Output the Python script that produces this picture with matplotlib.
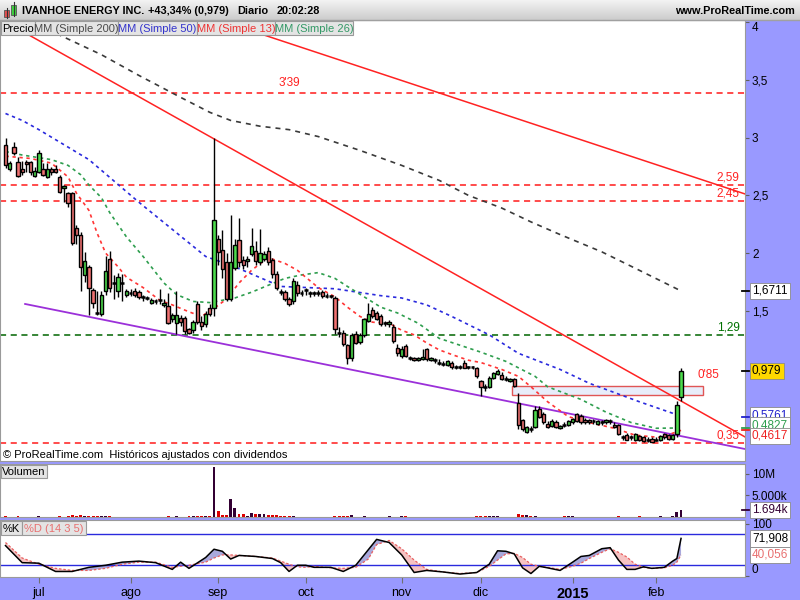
import numpy as np
import pandas as pd
import matplotlib
matplotlib.use("Agg")
import matplotlib.pyplot as plt
import matplotlib.transforms as mtransforms
from matplotlib.patches import Rectangle

plt.rcParams["font.family"] = ["Liberation Sans", "DejaVu Sans"]

# ---------------------------------------------------------------- data
holidays = ["2014-07-04", "2014-09-01", "2014-11-27", "2014-12-25",
            "2015-01-01", "2015-01-19"]
dates = pd.bdate_range("2014-06-19", "2015-02-10", freq="C", holidays=holidays)

opens = [
    2.94, 2.73, 2.92, 2.79, 2.73, 2.79, 2.79, 2.67, 2.70, 2.73,
    2.66, 2.73, 2.73, 2.66, 2.56, 2.52, 2.52, 2.22, 2.16, 1.81,
    1.88, 1.68, 1.48, 1.47, 1.67, 1.95, 1.74, 1.67, 1.74, 1.64,
    1.65, 1.67, 1.66, 1.62, 1.61, 1.57, 1.58, 1.59, 1.55, 1.54,
    1.43, 1.39, 1.44, 1.44, 1.34, 1.33, 1.56, 1.40, 1.38, 1.52,
    1.52, 2.12, 2.03, 1.92, 1.60, 1.87, 2.11, 1.94, 1.93, 1.99,
    2.02, 1.92, 1.95, 2.02, 1.94, 1.82, 1.66, 1.66, 1.60, 1.58,
    1.72, 1.65, 1.68, 1.65, 1.65, 1.65, 1.66, 1.63, 1.63, 1.61,
    1.31, 1.31, 1.20, 1.09, 1.30, 1.23, 1.29, 1.41, 1.51, 1.48,
    1.45, 1.39, 1.38, 1.36, 1.18, 1.11, 1.19, 1.09, 1.09, 1.07,
    1.08, 1.17, 1.07, 1.07, 1.05, 1.04, 1.03, 1.05, 1.01, 1.01,
    1.05, 1.01, 1.01, 1.00, 0.89, 0.84, 0.84, 0.92, 0.95, 0.94,
    0.91, 0.89, 0.91, 0.70, 0.55, 0.45, 0.47, 0.49, 0.65, 0.60,
    0.52, 0.50, 0.53, 0.48, 0.51, 0.51, 0.53, 0.60, 0.59, 0.55,
    0.55, 0.54, 0.52, 0.53, 0.53, 0.54, 0.51, 0.51, 0.40, 0.42,
    0.40, 0.38, 0.41, 0.40, 0.38, 0.39, 0.38, 0.38, 0.43, 0.42,
    0.39, 0.43, 0.755,
]
highs = [
    3.00, 2.80, 2.96, 2.83, 2.80, 2.81, 2.80, 2.75, 2.89, 2.78,
    2.78, 2.75, 2.76, 2.68, 2.59, 2.53, 2.53, 2.24, 2.18, 2.01,
    1.90, 1.70, 1.67, 1.67, 1.97, 2.02, 1.81, 1.83, 1.82, 1.69,
    1.69, 1.70, 1.68, 1.64, 1.63, 1.61, 1.60, 1.69, 1.60, 1.65,
    1.48, 1.67, 1.46, 1.45, 1.35, 1.42, 1.58, 1.45, 1.50, 1.56,
    3.00, 2.16, 2.20, 2.00, 2.33, 2.12, 2.30, 1.97, 1.97, 2.22,
    2.10, 2.21, 2.02, 2.05, 1.96, 1.84, 1.69, 1.68, 1.62, 1.78,
    1.76, 1.68, 1.70, 1.67, 1.67, 1.68, 1.68, 1.65, 1.64, 1.63,
    1.36, 1.33, 1.21, 1.31, 1.32, 1.31, 1.44, 1.57, 1.53, 1.50,
    1.47, 1.41, 1.42, 1.38, 1.21, 1.19, 1.21, 1.11, 1.10, 1.10,
    1.17, 1.18, 1.10, 1.09, 1.08, 1.06, 1.07, 1.06, 1.03, 1.03,
    1.07, 1.02, 1.02, 1.01, 0.90, 0.86, 0.93, 0.97, 0.99, 0.97,
    0.93, 0.92, 0.92, 0.79, 0.56, 0.50, 0.50, 0.67, 0.67, 0.62,
    0.54, 0.56, 0.55, 0.51, 0.53, 0.55, 0.57, 0.61, 0.60, 0.57,
    0.56, 0.56, 0.55, 0.55, 0.56, 0.56, 0.53, 0.52, 0.42, 0.44,
    0.42, 0.44, 0.42, 0.41, 0.40, 0.40, 0.40, 0.42, 0.44, 0.43,
    0.43, 0.72, 1.00,
]
lows = [
    2.74, 2.71, 2.85, 2.66, 2.68, 2.70, 2.68, 2.66, 2.69, 2.67,
    2.65, 2.68, 2.69, 2.52, 2.44, 2.40, 2.07, 2.08, 1.67, 1.75,
    1.46, 1.52, 1.46, 1.45, 1.64, 1.66, 1.60, 1.62, 1.58, 1.62,
    1.63, 1.62, 1.60, 1.58, 1.59, 1.56, 1.56, 1.56, 1.53, 1.38,
    1.40, 1.30, 1.37, 1.30, 1.30, 1.31, 1.38, 1.33, 1.36, 1.45,
    1.45, 1.90, 1.78, 1.58, 1.58, 1.85, 1.88, 1.86, 1.88, 1.97,
    1.90, 1.90, 1.93, 1.90, 1.78, 1.68, 1.64, 1.58, 1.54, 1.56,
    1.63, 1.63, 1.64, 1.62, 1.63, 1.63, 1.61, 1.61, 1.61, 1.30,
    1.27, 1.19, 1.04, 1.06, 1.21, 1.21, 1.27, 1.40, 1.44, 1.42,
    1.37, 1.37, 1.36, 1.22, 1.11, 1.09, 1.10, 1.07, 1.06, 1.06,
    1.07, 1.06, 1.06, 1.05, 1.03, 1.02, 1.02, 0.99, 0.99, 0.99,
    1.00, 0.99, 0.99, 0.92, 0.76, 0.80, 0.83, 0.91, 0.94, 0.90,
    0.89, 0.88, 0.84, 0.47, 0.46, 0.44, 0.45, 0.48, 0.57, 0.52,
    0.48, 0.49, 0.48, 0.47, 0.49, 0.50, 0.52, 0.53, 0.52, 0.52,
    0.52, 0.52, 0.51, 0.51, 0.52, 0.52, 0.48, 0.42, 0.38, 0.38,
    0.38, 0.37, 0.37, 0.36, 0.36, 0.36, 0.37, 0.37, 0.39, 0.38,
    0.38, 0.40, 0.72,
]
closes = [
    2.76, 2.78, 2.87, 2.67, 2.70, 2.77, 2.70, 2.71, 2.87, 2.68,
    2.73, 2.70, 2.70, 2.53, 2.58, 2.43, 2.09, 2.16, 1.88, 1.93,
    1.70, 1.57, 1.48, 1.64, 1.84, 1.70, 1.74, 1.79, 1.74, 1.67,
    1.65, 1.64, 1.62, 1.62, 1.61, 1.59, 1.58, 1.59, 1.57, 1.39,
    1.46, 1.46, 1.40, 1.32, 1.31, 1.40, 1.40, 1.37, 1.47, 1.47,
    2.29, 2.01, 1.86, 1.60, 1.92, 2.07, 1.92, 1.90, 1.95, 2.06,
    1.93, 2.00, 1.99, 1.92, 1.82, 1.70, 1.66, 1.60, 1.56, 1.76,
    1.65, 1.65, 1.68, 1.65, 1.65, 1.65, 1.63, 1.63, 1.63, 1.34,
    1.31, 1.21, 1.09, 1.29, 1.22, 1.29, 1.43, 1.47, 1.45, 1.43,
    1.38, 1.39, 1.40, 1.24, 1.13, 1.17, 1.11, 1.09, 1.07, 1.09,
    1.10, 1.08, 1.09, 1.07, 1.05, 1.04, 1.06, 1.01, 1.01, 1.01,
    1.00, 1.01, 1.01, 0.93, 0.84, 0.84, 0.92, 0.96, 0.98, 0.91,
    0.91, 0.91, 0.85, 0.51, 0.47, 0.49, 0.47, 0.64, 0.58, 0.53,
    0.49, 0.54, 0.49, 0.50, 0.51, 0.54, 0.56, 0.54, 0.53, 0.53,
    0.53, 0.54, 0.54, 0.53, 0.55, 0.54, 0.49, 0.43, 0.40, 0.38,
    0.40, 0.43, 0.38, 0.37, 0.38, 0.36, 0.38, 0.41, 0.40, 0.39,
    0.42, 0.683, 0.979,
]
# volume in millions of shares
volume = [
    0.15, 0.1, 0.1, 0.15, 0.1, 0.1, 0.1, 0.1, 0.15, 0.1,
    0.1, 0.1, 0.1, 0.15, 0.1, 0.3, 0.35, 0.3, 0.35, 0.3,
    0.3, 0.3, 0.15, 0.15, 0.3, 0.15, 0.1, 0.1, 0.1, 0.1,
    0.1, 0.1, 0.1, 0.1, 0.1, 0.1, 0.1, 0.1, 0.1, 0.3,
    0.1, 0.3, 0.1, 0.1, 0.3, 0.3, 0.3, 0.3, 0.3, 0.3,
    11.7, 1.4, 0.5, 0.5, 4.2, 2.1, 0.6, 0.6, 0.3, 0.9,
    0.6, 0.8, 0.7, 0.5, 0.4, 0.4, 0.3, 0.25, 0.2, 0.25,
    0.1, 0.1, 0.1, 0.1, 0.1, 0.1, 0.1, 0.1, 0.1, 0.3,
    0.3, 0.3, 0.3, 0.4, 0.1, 0.1, 0.25, 0.1, 0.1, 0.1,
    0.1, 0.1, 0.3, 0.1, 0.1, 0.25, 0.25, 0.1, 0.1, 0.1,
    0.1, 0.1, 0.1, 0.1, 0.1, 0.1, 0.1, 0.1, 0.1, 0.1,
    0.1, 0.1, 0.1, 0.2, 0.3, 0.3, 0.3, 0.25, 0.25, 0.1,
    0.1, 0.1, 0.1, 0.7, 0.35, 0.35, 0.3, 0.3, 0.1, 0.1,
    0.1, 0.1, 0.1, 0.1, 0.2, 0.25, 0.2, 0.1, 0.1, 0.1,
    0.1, 0.1, 0.1, 0.1, 0.1, 0.1, 0.1, 0.25, 0.1, 0.1,
    0.1, 0.1, 0.25, 0.1, 0.1, 0.1, 0.1, 0.25, 0.1, 0.1,
    0.3, 1.15, 1.694,
]

# moving averages (bar index, value)
sma200_idx = [8, 13, 23, 32, 42, 49, 54, 61, 68, 75, 85, 95, 104, 111, 119, 126, 133, 143, 152, 162]
sma200 = [3.98, 3.89, 3.72, 3.54, 3.35, 3.22, 3.15, 3.10, 3.07, 3.01, 2.89, 2.76,
          2.63, 2.50, 2.39, 2.27, 2.16, 2.01, 1.85, 1.6711]
sma50_idx = [0, 4, 8, 20, 32, 48, 55, 66, 79, 90, 95, 101, 107, 116, 123, 133, 140, 152, 160, 162]
sma50 = [3.21, 3.15, 3.07, 2.81, 2.44, 1.97, 1.88, 1.71, 1.69, 1.63, 1.61, 1.55,
         1.45, 1.29, 1.13, 0.99, 0.87, 0.71, 0.61, 0.5761]
sma26_idx = [0, 4, 11, 15, 18, 20, 23, 25, 29, 33, 38, 41, 45, 49, 55, 59, 63, 67, 71,
             75, 79, 82, 86, 90, 94, 99, 104, 109, 114, 120, 127, 130, 138, 144, 150, 156, 162]
sma26 = [2.88, 2.85, 2.81, 2.76, 2.68, 2.59, 2.48, 2.35, 2.14, 1.97, 1.74, 1.64, 1.58,
         1.57, 1.61, 1.66, 1.72, 1.78, 1.81, 1.83, 1.78, 1.71, 1.62, 1.53, 1.48, 1.39,
         1.26, 1.20, 1.14, 1.06, 0.93, 0.84, 0.73, 0.62, 0.53, 0.48, 0.4827]
sma13_idx = [0, 6, 11, 15, 17, 20, 22, 24, 27, 29, 33, 37, 40, 44, 47, 50, 53, 56, 59, 63,
             67, 70, 75, 79, 82, 85, 88, 92, 95, 98, 101, 104, 107, 111, 114, 119, 123, 126,
             130, 135, 140, 146, 151, 157, 162]
sma13 = [2.84, 2.82, 2.78, 2.66, 2.52, 2.37, 2.17, 2.00, 1.88, 1.79, 1.70, 1.59, 1.55,
         1.49, 1.45, 1.52, 1.60, 1.74, 1.85, 1.96, 1.91, 1.85, 1.70, 1.62, 1.53, 1.45,
         1.40, 1.39, 1.33, 1.29, 1.22, 1.16, 1.12, 1.07, 1.05, 0.99, 0.93, 0.84, 0.71,
         0.58, 0.53, 0.48, 0.42, 0.40, 0.4617]

# stochastic %K / %D (14 3 5)
stoch_idx = [0, 4, 8, 12, 16, 20, 24, 28, 32, 36, 40, 42, 44, 48, 50, 52, 54, 56, 60, 64,
             66, 68, 70, 72, 74, 78, 81, 84, 87, 89, 92, 95, 98, 101, 105, 109, 113, 116, 118, 120,
             122, 124, 126, 128, 130, 133, 136, 138, 140, 143, 145, 147, 149, 151, 153, 155, 158, 160, 161, 162]
stoch_k = [58, 25, 24, 8, 8, 16, 20, 26, 28, 25, 12, 26, 14, 35, 51, 47, 32, 39, 37, 33,
           25, 8, 20, 20, 16, 16, 8, 20, 50, 70, 64, 40, 6, 10, 7, 3, 6, 22, 48, 47,
           42, 15, 4, 18, 15, 10, 26, 37, 39, 52, 54, 30, 12, 12, 17, 14, 16, 28, 33, 71.908]
stoch_d = [64, 34, 22, 14, 10, 10, 14, 22, 26, 26, 16, 18, 20, 26, 34, 40, 40, 39, 37, 34,
           28, 22, 17, 16, 18, 15, 14, 16, 32, 60, 68, 52, 30, 12, 7, 4, 6, 18, 30, 42,
           43, 35, 22, 18, 16, 12, 18, 24, 33, 45, 52, 45, 36, 22, 16, 14, 15, 20, 26, 40.056]

# drawn studies: trend lines (bar index, price) pairs, levels and a zone
trend_red = [((46.2, 3.067), (176.1, 0.430)), ((63.4, 3.874), (176.6, 2.521))]
trend_support = ((4.7, 1.558), (176.1, 0.309))
levels = [3.39, 2.59, 2.45, 0.35]
level_green = 1.29
zone_x = (121.5, 167.3)
zone_y = (0.77, 0.85)

month_names = {7: "jul", 8: "ago", 9: "sep", 10: "oct", 11: "nov", 12: "dic", 1: "2015", 2: "feb"}

# ---------------------------------------------------------------- setup
n = len(dates)
for name, arr in [("opens", opens), ("highs", highs), ("lows", lows),
                  ("closes", closes), ("volume", volume)]:
    assert len(arr) == n, (name, len(arr), n)

o, h, l, c = map(np.array, (opens, highs, lows, closes))
idx = np.arange(n)
up = c > o
down = c < o
flat = c == o

PANEL = "#9999ff"
SPINE = "#9a9a9a"
W, H = 800, 600
BAR_PX, FIRST_PX = 4.17, 5.5

fig = plt.figure(figsize=(8, 6), dpi=100, facecolor=PANEL)


def px_axes(x0, y0, x1, y1):
    return fig.add_axes([x0 / W, 1 - y1 / H, (x1 - x0) / W, (y1 - y0) / H])


ax = px_axes(0, 20, 745, 461)
axv = px_axes(0, 464, 745, 517)
axs = px_axes(0, 520, 745, 577)
xlim = ((0 - FIRST_PX) / BAR_PX, (745 - FIRST_PX) / BAR_PX)
for a in (ax, axv, axs):
    a.set_xlim(*xlim)
    a.set_facecolor("white")
    for sp in a.spines.values():
        sp.set_color(SPINE)
    a.yaxis.tick_right()
    a.tick_params(axis="y", direction="out", length=3, width=0.8, color="#606060",
                  labelsize=8.5, pad=2)
ax.set_xticks([])
axv.set_xticks([])

# ---------------------------------------------------------------- price panel
ax.set_ylim(0.196, 4.021)
ax.set_yticks([1.5, 2, 2.5, 3, 3.5, 4])
ax.set_yticklabels(["1,5", "2", "2,5", "3", "3,5", "4"])
ax.get_yticklabels()[-1].set_va("top")

dash = (0, (4, 3))
for lv in levels:
    ax.axhline(lv, color="#ff1a1a", lw=1.1, ls=dash, zorder=1)
ax.axhline(level_green, color="#006400", lw=1.1, ls=dash, zorder=1)

ax.add_patch(Rectangle((zone_x[0], zone_y[0]), zone_x[1] - zone_x[0], zone_y[1] - zone_y[0],
                       facecolor="#e8edfa", edgecolor="#e05555", lw=1.0, zorder=1))

for p1, p2 in trend_red:
    ax.axline(p1, p2, color="#ff2222", lw=1.1, zorder=2)
(s1, s2) = trend_support
slope = (s2[1] - s1[1]) / (s2[0] - s1[0])
ax.plot([s1[0], xlim[1]], [s1[1], s1[1] + slope * (xlim[1] - s1[0])],
        color="#9b30d9", lw=1.3, zorder=2)

ax.plot(sma200_idx, sma200, color="#3a3a3a", lw=1.2, ls=(0, (3, 3)), zorder=2)
ax.plot(sma50_idx, sma50, color="#2a2add", lw=1.2, ls=(0, (2, 2.2)), zorder=2)
ax.plot(sma26_idx, sma26, color="#2e9e4e", lw=1.2, ls=(0, (2, 2.2)), zorder=2)
ax.plot(sma13_idx, sma13, color="#ff3535", lw=1.2, ls=(0, (2, 2.2)), zorder=2)

# candles
ax.vlines(idx, l, h, color="black", lw=1.0, zorder=3)
ax.bar(idx[up], (c - o)[up], bottom=o[up], width=0.8, color="#4cdc4c",
       edgecolor="black", lw=1.0, zorder=4)
ax.bar(idx[down], (o - c)[down], bottom=c[down], width=0.8, color="#f07272",
       edgecolor="black", lw=1.0, zorder=4)
ax.hlines(c[flat], idx[flat] - 0.45, idx[flat] + 0.45, color="black", lw=1.8, zorder=4)

# level labels
ax.annotate("3'39", xy=(68, levels[0]), xytext=(0, 3), textcoords="offset points",
            ha="center", va="bottom", color="#ff2222", fontsize=8.5)
trans = mtransforms.blended_transform_factory(ax.transAxes, ax.transData)
for lv, txt, col in [(2.59, "2,59", "#ff2222"), (2.45, "2,45", "#ff2222"),
                     (1.29, "1,29", "#007000"), (0.35, "0,35", "#ff2222")]:
    ax.annotate(txt, xy=(0.993, lv), xycoords=trans, xytext=(0, 1), textcoords="offset points",
                ha="right", va="bottom", color=col, fontsize=8.5)
ax.annotate("0'85", xy=(zone_x[1] - 1.4, zone_y[1]), xytext=(0, 3), textcoords="offset points",
            ha="left", va="bottom", color="#ff2222", fontsize=8.5)
ax.text(0.004, 0.014, "© ProRealTime.com  Históricos ajustados con dividendos",
        transform=ax.transAxes, fontsize=8, va="center", ha="left", color="black")


def value_box(a, value, text, color, bg, dy=0, tick_color=None):
    tr = mtransforms.blended_transform_factory(a.transAxes, a.transData)
    if tick_color:
        a.plot([0.996, 1.006], [value, value], transform=tr, color=tick_color,
               lw=1.3, clip_on=False, zorder=9)
    a.annotate(text, xy=(1.0, value), xycoords=tr, xytext=(5, dy), textcoords="offset points",
               ha="left", va="center", color=color, fontsize=8.5, zorder=10,
               annotation_clip=False,
               bbox=dict(boxstyle="square,pad=0.18", fc=bg, ec="#8a8a8a", lw=0.6))


value_box(ax, 1.6711, "1,6711", "black", "white", tick_color="black")
value_box(ax, 0.979, "0,979", "black", "#ffd800", tick_color="black")
value_box(ax, 0.5761, "0,5761", "#2020cc", "white", dy=1.5, tick_color="#2020cc")
value_box(ax, 0.4827, "0,4827", "#2e9e4e", "white", dy=2, tick_color="#2e9e4e")
value_box(ax, 0.4617, "0,4617", "#ee2222", "white", dy=-4, tick_color="#ee2222")

# ---------------------------------------------------------------- volume panel
vol = np.array(volume) * 1e6
vcol = np.where(up, "#330033", "#dd0000")
axv.bar(idx, vol, width=0.7, color=vcol, zorder=3)
axv.set_ylim(0, 12.3e6)
axv.set_yticks([5e6, 10e6])
axv.set_yticklabels(["5.000k", "10M"])
value_box(axv, 1.694e6, "1.694k", "#330033", "white", tick_color="#330033")

# ---------------------------------------------------------------- stochastic panel
sk = np.array(stoch_k, dtype=float)
sd = np.array(stoch_d, dtype=float)
axs.set_ylim(-2.7, 107.5)
axs.fill_between(stoch_idx, sk, sd, where=sk >= sd, interpolate=True,
                 color="#a9a9dc", lw=0, zorder=1)
axs.fill_between(stoch_idx, sk, sd, where=sk < sd, interpolate=True,
                 color="#f6c3c3", lw=0, zorder=1)
axs.axhline(80, color="#2a2add", lw=1.0, zorder=2)
axs.axhline(20, color="#2a2add", lw=1.0, zorder=2)
axs.plot(stoch_idx, sd, color="#e86060", lw=0.9, ls=(0, (2, 1.5)), zorder=3)
axs.plot(stoch_idx, sk, color="black", lw=1.1, zorder=4)
axs.set_yticks([0, 100])
axs.set_yticklabels(["0", "100"])
axs.get_yticklabels()[0].set_va("bottom")
value_box(axs, 71.908, "71,908", "black", "white")
value_box(axs, 40.056, "40,056", "#e87070", "white")

# month ticks on the bottom strip
s = pd.Series(idx, index=dates)
firsts = s.groupby([dates.year, dates.month]).first()
tick_pos, tick_lab = [], []
for (yr, mo), pos in firsts.items():
    if mo in month_names and not (yr == 2014 and mo < 7):
        tick_pos.append(pos)
        tick_lab.append(month_names[mo])
axs.set_xticks(tick_pos)
axs.set_xticklabels(tick_lab)
axs.tick_params(axis="x", direction="out", length=4, width=0.8, color="#707070",
                labelsize=9, pad=3)
for lab in axs.get_xticklabels():
    if lab.get_text() == "2015":
        lab.set_fontweight("bold")
        lab.set_fontsize(10.5)

# ---------------------------------------------------------------- header / buttons
ui = fig.add_axes([0, 0, 1, 1], zorder=10)
ui.patch.set_alpha(0)
grad = np.linspace(0.95, 0.80, 20)[:, None, None] * np.ones((20, 1, 3))
ui.imshow(grad, extent=(0, W, 20, 0), aspect="auto", zorder=0, interpolation="bilinear")
ui.plot([0, W], [20, 20], color="#a0a0a0", lw=1)
ui.set_xlim(0, W)
ui.set_ylim(H, 0)
ui.axis("off")

# icon
ui.plot([6.5, 6.5], [8, 18], color="#333333", lw=0.8)
ui.add_patch(Rectangle((4, 10), 5, 7, fc="#e05050", ec="#555555", lw=0.6))
ui.plot([13.5, 13.5], [2, 16], color="#333333", lw=0.8)
ui.add_patch(Rectangle((11, 5), 5, 10, fc="#3dd03d", ec="#555555", lw=0.6))

hdr = dict(fontsize=7.8, fontweight="bold", va="center", color="black")
ui.text(22, 10.5, "IVANHOE ENERGY INC.", ha="left", **hdr)
ui.text(148, 10.5, "+43,34% (0,979)", ha="left", **hdr)
ui.text(237, 10.5, "Diario", ha="left", **hdr)
ui.text(277, 10.5, "20:02:28", ha="left", **hdr)
ui.text(795, 10.5, "www.ProRealTime.com", ha="right", **hdr)


def button(x0, x1, y0, y1, text, color):
    ui.add_patch(Rectangle((x0, y0), x1 - x0, y1 - y0, fc="#e4e4e4", ec="#9a9a9a", lw=0.8))
    ui.text((x0 + x1) / 2, (y0 + y1) / 2 + 0.5, text, ha="center", va="center",
            fontsize=8, color=color)


button(1, 35, 21, 35, "Precio", "black")
button(35, 118, 21, 35, "MM (Simple 200)", "#4a4a4a")
button(118, 197, 21, 35, "MM (Simple 50)", "#3333cc")
button(197, 275, 21, 35, "MM (Simple 13)", "#ee3333")
button(275, 353, 21, 35, "MM (Simple 26)", "#339966")
button(1, 47, 465, 478, "Volumen", "black")
button(1, 22, 521, 535, "%K", "black")
button(22, 86, 521, 535, "%D (14 3 5)", "#e87070")

fig.savefig("out.png", dpi=100, facecolor=fig.get_facecolor())
